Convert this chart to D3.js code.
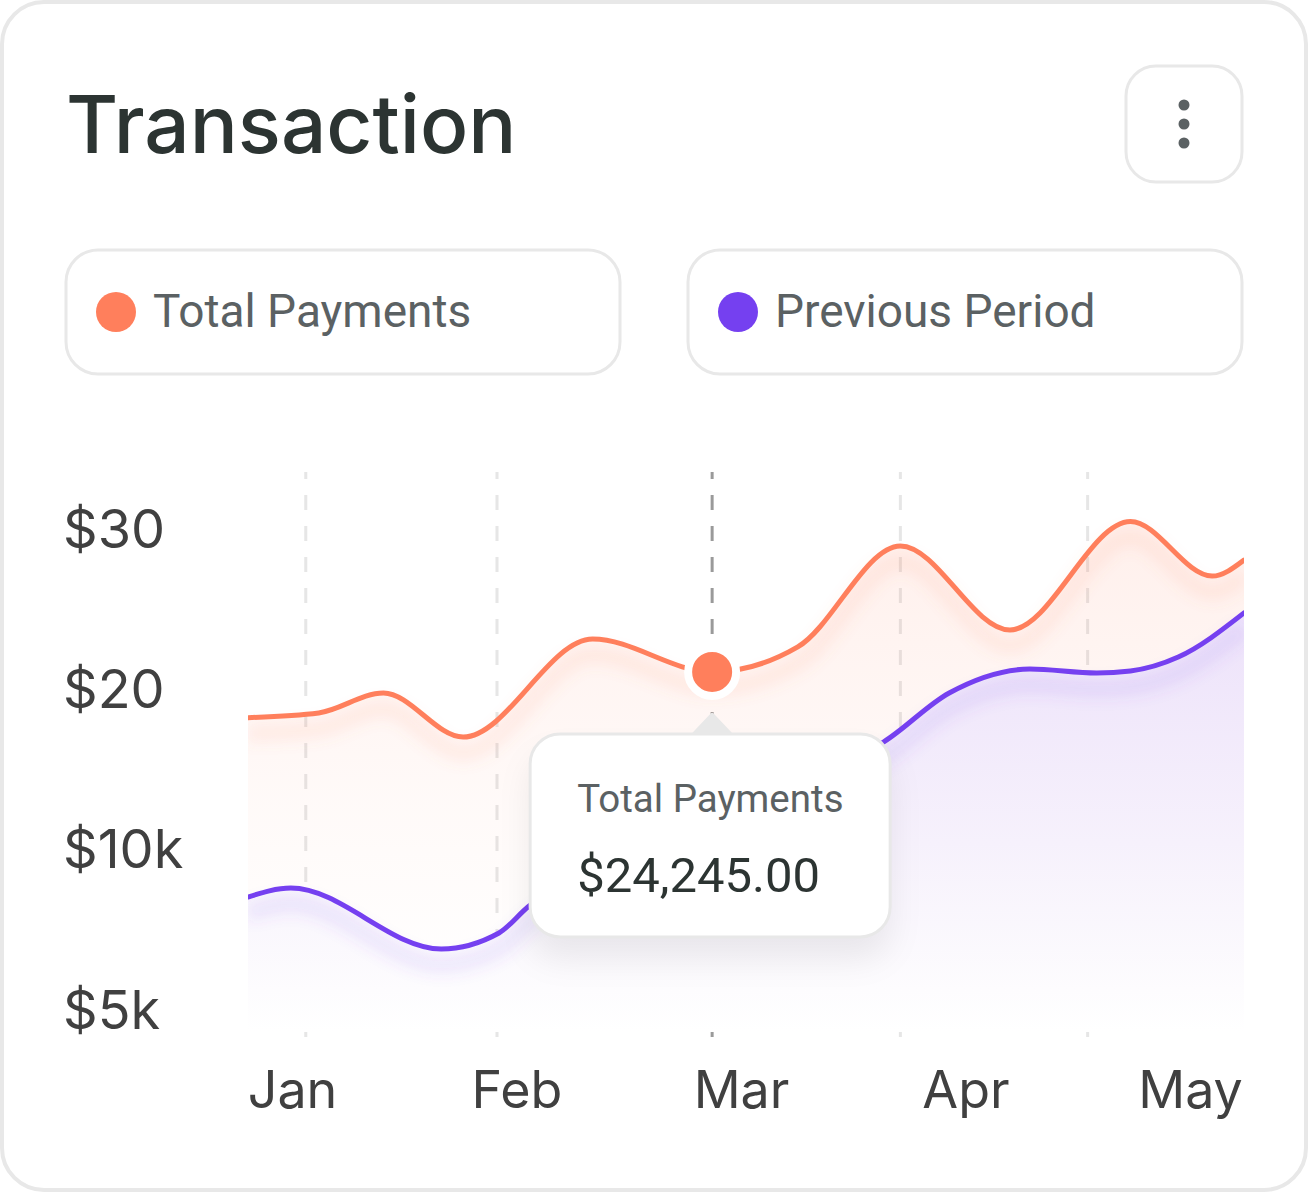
<!DOCTYPE html>
<html><head><meta charset="utf-8">
<script src="https://cdn.jsdelivr.net/npm/d3@7"></script>
<style>body{margin:0;background:#fff} svg{display:block}</style>
</head><body><svg id="c" width="1308" height="1192"></svg>
<script>
// ---- data ----
const months = ["Jan", "Feb", "Mar", "Apr", "May"];
const monthGridAt = [5.8, 25.0, 46.6, 65.5, 84.3];
const yTickValues = [30, 20, 10, 0];
const yTickLabels = ["$30", "$20", "$10k", "$5k"];
const seriesNames = ["Total Payments", "Previous Period"];
const seriesColors = ["#FF7F5C", "#7540F0"];
const totalX = [0, 7.1, 13.6, 21.6, 34.6, 46.6, 55.2, 65.5, 76.5, 88.6, 96.8, 100];
const totalY = [18.11, 18.40, 19.65, 16.90, 23.01, 20.96, 22.52, 28.82, 23.58, 30.34, 26.94, 27.94];
const prevX = [0, 4.3, 19.4, 25.2, 28.1, 37.4, 46.6, 55.5, 63.8, 70.4, 78.5, 85.2, 88.6, 93.4, 100];
const prevY = [6.92, 7.48, 3.68, 4.68, 6.30, 9.5, 12.2, 14.3, 16.59, 19.65, 21.14, 20.89, 21.02, 21.89, 24.64];
const activeMonth = 2;      // Mar
const activeIndex = 5;      // point of Total Payments under tooltip
const tooltipLabel = "Total Payments";
const tooltipValue = "$24,245.00";
const titleText = "Transaction";

// ---- drawing ----
const svg = d3.select("#c");
const W = 1308, H = 1192;
const defs = svg.append("defs");

const x = d3.scaleLinear().domain([0, 100]).range([248, 1244]);
const y = d3.scaleLinear().domain([0, 30]).range([1008, 527]);
const plotTop = 472, plotBottom = 1046, areaBottom = 1032;

// gradients
const gO = defs.append("linearGradient").attr("id", "gO").attr("gradientUnits", "userSpaceOnUse")
  .attr("x1", 0).attr("x2", 0).attr("y1", 520).attr("y2", 1000);
gO.append("stop").attr("offset", 0).attr("stop-color", seriesColors[0]).attr("stop-opacity", 0.12);
gO.append("stop").attr("offset", 0.6).attr("stop-color", seriesColors[0]).attr("stop-opacity", 0.04);
gO.append("stop").attr("offset", 1).attr("stop-color", seriesColors[0]).attr("stop-opacity", 0);

const gP = defs.append("linearGradient").attr("id", "gP").attr("gradientUnits", "userSpaceOnUse")
  .attr("x1", 0).attr("x2", 0).attr("y1", 612).attr("y2", 1032);
gP.append("stop").attr("offset", 0).attr("stop-color", "#EDE2FA").attr("stop-opacity", 1);
gP.append("stop").attr("offset", 0.55).attr("stop-color", "#F6F1FC").attr("stop-opacity", 1);
gP.append("stop").attr("offset", 0.9).attr("stop-color", "#FDFCFE").attr("stop-opacity", 1);
gP.append("stop").attr("offset", 1).attr("stop-color", "#FFFFFF").attr("stop-opacity", 1);

const blur = defs.append("filter").attr("id", "blur").attr("x", "-10%").attr("y", "-100%").attr("width", "120%").attr("height", "300%");
blur.append("feGaussianBlur").attr("stdDeviation", 7);

const shadow = defs.append("filter").attr("id", "tipShadow").attr("x", "-30%").attr("y", "-30%").attr("width", "160%").attr("height", "180%");
shadow.append("feDropShadow").attr("dx", 0).attr("dy", 22).attr("stdDeviation", 16)
  .attr("flood-color", "#000").attr("flood-opacity", 0.07);

const clip = defs.append("clipPath").attr("id", "plotClip");
clip.append("rect").attr("x", x(0)).attr("y", 440).attr("width", x(100) - x(0)).attr("height", plotBottom - 440 + 4);

// card
svg.append("rect").attr("x", 2).attr("y", 2).attr("width", W - 4).attr("height", H - 4)
  .attr("rx", 42).attr("fill", "#fff").attr("stroke", "#e8e8e8").attr("stroke-width", 4);

// title
svg.append("text").attr("x", 66).attr("y", 153).text(titleText)
  .attr("font-family", "Inter, sans-serif").attr("font-weight", 500).attr("font-size", 80).attr("fill", "#2c3432");

// menu button
svg.append("rect").attr("x", 1126).attr("y", 66).attr("width", 116).attr("height", 116).attr("rx", 30)
  .attr("fill", "#fff").attr("stroke", "#e8e8e8").attr("stroke-width", 3);
svg.selectAll(".mdot").data([0, 1, 2]).join("circle")
  .attr("cx", 1184).attr("cy", d => 105 + d * 19).attr("r", 5.5).attr("fill", "#5b6163");

// legend
const leg = svg.selectAll(".leg").data(seriesNames).join("g").attr("transform", (d, i) => `translate(${66 + i * 622},250)`);
leg.append("rect").attr("x", 0).attr("y", 0).attr("width", 554).attr("height", 124).attr("rx", 32)
  .attr("fill", "#fff").attr("stroke", "#e8e8e8").attr("stroke-width", 3);
leg.append("circle").attr("cx", 50).attr("cy", 62).attr("r", 20).attr("fill", (d, i) => seriesColors[i]);
leg.append("text").attr("x", 87).attr("y", 77).text(d => d)
  .attr("font-family", "Roboto, sans-serif").attr("font-size", 46).attr("fill", "#5b6163");

// gridlines
svg.append("g").selectAll("line").data(monthGridAt).join("line")
  .attr("x1", d => x(d)).attr("x2", d => x(d)).attr("y1", plotTop).attr("y2", plotBottom)
  .attr("stroke", (d, i) => i === activeMonth ? "#9a9a9a" : "#e6e6e6")
  .attr("stroke-width", 3).attr("stroke-dasharray", "15,16").attr("stroke-dashoffset", 8);

const totalData = totalX.map((d, i) => ({ x: d, v: totalY[i] }));
const prevData = prevX.map((d, i) => ({ x: d, v: prevY[i] }));
const curve = d3.curveMonotoneX;
const line = d3.line().x(d => x(d.x)).y(d => y(d.v)).curve(curve);
const area = d3.area().x(d => x(d.x)).y0(areaBottom).y1(d => y(d.v)).curve(curve);

const plot = svg.append("g").attr("clip-path", "url(#plotClip)");
// orange area + glow
plot.append("path").datum(totalData).attr("d", area).attr("fill", "url(#gO)");
plot.append("path").datum(totalData).attr("d", line).attr("fill", "none")
  .attr("stroke", seriesColors[0]).attr("stroke-opacity", 0.10).attr("stroke-width", 18)
  .attr("transform", "translate(0,16)").attr("filter", "url(#blur)");
// purple area + glow
plot.append("path").datum(prevData).attr("d", area).attr("fill", "url(#gP)");
plot.append("path").datum(prevData).attr("d", line).attr("fill", "none")
  .attr("stroke", seriesColors[1]).attr("stroke-opacity", 0.10).attr("stroke-width", 18)
  .attr("transform", "translate(0,16)").attr("filter", "url(#blur)");
// lines
plot.append("path").datum(totalData).attr("d", line).attr("fill", "none")
  .attr("stroke", seriesColors[0]).attr("stroke-width", 5).attr("stroke-linecap", "round");
plot.append("path").datum(prevData).attr("d", line).attr("fill", "none")
  .attr("stroke", seriesColors[1]).attr("stroke-width", 5).attr("stroke-linecap", "round");

// y axis
const yAxis = svg.append("g").attr("transform", "translate(63,20)")
  .call(d3.axisLeft(y).tickValues(yTickValues).tickFormat((d, i) => yTickLabels[i]).tickSize(0).tickPadding(0));
yAxis.select(".domain").remove();
yAxis.selectAll("text").attr("x", 0).attr("dy", 0).attr("text-anchor", "start")
  .attr("font-family", "Inter, sans-serif").attr("font-size", 54).attr("fill", "#404040");

// x axis
const xl = d3.scalePoint().domain(months).range([292, 1190]);
const xAxis = svg.append("g").attr("transform", "translate(0,1108)")
  .call(d3.axisBottom(xl).tickSize(0).tickPadding(0));
xAxis.select(".domain").remove();
xAxis.selectAll("text").attr("y", 0).attr("dy", 0)
  .attr("font-family", "Inter, sans-serif").attr("font-size", 52).attr("fill", "#404040");

// active point
const px = x(totalData[activeIndex].x), py = y(totalData[activeIndex].v);
svg.append("circle").attr("cx", px).attr("cy", py).attr("r", 24)
  .attr("fill", seriesColors[0]).attr("stroke", "#fff").attr("stroke-width", 8);

// tooltip
const tip = svg.append("g").attr("transform", `translate(${px},${py})`);
tip.append("rect").attr("x", -182).attr("y", 62).attr("width", 360).attr("height", 203).attr("rx", 30)
  .attr("fill", "#fff").attr("filter", "url(#tipShadow)");
tip.append("path").attr("d", "M-18,62 L0,43 L18,62 Z").attr("fill", "#e8e8e8")
  .attr("stroke", "#e8e8e8").attr("stroke-width", 4).attr("stroke-linejoin", "round");
tip.append("rect").attr("x", -182).attr("y", 62).attr("width", 360).attr("height", 203).attr("rx", 30)
  .attr("fill", "#fff").attr("stroke", "#e8e8e8").attr("stroke-width", 3);
tip.append("text").attr("x", -135).attr("y", 140).text(tooltipLabel)
  .attr("font-family", "Roboto, sans-serif").attr("font-size", 38.5).attr("fill", "#5b6163");
tip.append("text").attr("x", -135).attr("y", 220).text(tooltipValue)
  .attr("font-family", "Roboto, sans-serif").attr("font-size", 49).attr("fill", "#2c3432");
</script></body></html>
